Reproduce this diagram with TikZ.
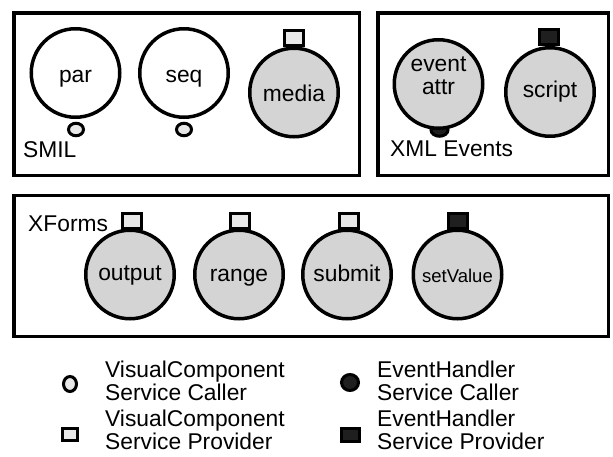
\documentclass[tikz,border=0pt]{standalone}
\usepackage{fontspec}
\setmainfont{Liberation Sans}
\usetikzlibrary{shapes.geometric}
\definecolor{compgray}{gray}{0.83}
\definecolor{vcfill}{gray}{0.91}
\definecolor{ehfill}{gray}{0.12}
\begin{document}
\begin{tikzpicture}[x=1pt,y=-1pt,
  frame/.style={draw=black, line width=3.3pt},
  comp/.style={circle, draw=black, line width=3.5pt, minimum size=88.5pt,
    inner sep=0pt, align=center, font=\fontsize{22.8}{23}\selectfont},
  plain/.style={comp, fill=white},
  shaded/.style={comp, fill=compgray},
  % baseline sits #1/2 below the circle centre
  drop/.style={text height=#1, text depth=0pt},
  provider/.style={rectangle, draw=black, line width=3pt, inner sep=0pt,
    minimum width=19pt, minimum height=15pt},
  caller/.style={ellipse, draw=black, line width=3pt, inner sep=0pt,
    minimum width=15pt, minimum height=12.5pt},
  vc/.style={fill=vcfill},
  eh/.style={fill=ehfill},
  label/.style={anchor=base west, inner sep=0pt, font=\fontsize{22.8}{23}\selectfont},
  legend/.style={anchor=west, inner sep=0pt, align=left, font=\fontsize{22.8}{23.5}\selectfont}
]
\fill[white] (0,0) rectangle (613,457);
\useasboundingbox (0,0) rectangle (613,457);

% group frames
\draw[frame] (14,13) rectangle (359.5,175.5);
\draw[frame] (378,13) rectangle (608.5,175.5);
\draw[frame] (14,195.5) rectangle (608.5,336.5);

% SMIL
\node[caller, vc] (parC) at (76,129.5) {};
\node[caller, vc] (seqC) at (184,129.5) {};
\node[provider, vc] (mediaP) at (294,38) {};
\node[plain, drop=20pt] (par) at (75.5,73) {par};
\node[plain, drop=20pt] (seq) at (184,73) {seq};
\node[shaded, drop=19pt] (media) at (294,92.5) {media};
\node[label] (smil) at (23,158) {SMIL};

% XML Events
\node[caller, eh, minimum width=17pt] (evC) at (439.5,130) {};
\node[provider, eh] (scriptP) at (549,37.5) {};
\node[shaded] (ev) at (438.5,84)
  {\raisebox{0pt}[22pt][0pt]{\begin{tabular}[b]{@{}c@{}}event\\attr\end{tabular}}};
\node[shaded, drop=12pt] (script) at (550,92) {script};
\node[label] (xmlev) at (390,157) {XML Events};

% XForms
\node[provider, vc] (outP) at (131.5,221) {};
\node[provider, vc] (rangeP) at (239.5,221) {};
\node[provider, vc] (subP) at (349,221) {};
\node[provider, eh] (setP) at (457.5,221) {};
\node[shaded, drop=12pt] (out) at (130,274.5) {output};
\node[shaded, drop=14pt] (range) at (239,274.5) {range};
\node[shaded, drop=14pt] (sub) at (347,274.5) {submit};
\node[shaded, drop=16pt, font=\fontsize{18.5}{20}\selectfont] (set) at (457.5,274.5) {setValue};
\node[label] (xforms) at (28,232) {XForms};

% legend
\node[caller, vc, minimum width=13pt, minimum height=15pt] (lgVcC) at (70,384) {};
\node[legend] (lgVcCt) at (105,381) {VisualComponent\\Service Caller};
\node[provider, vc, minimum width=15pt, minimum height=12pt] (lgVcP) at (70,434) {};
\node[legend] (lgVcPt) at (105,430) {VisualComponent\\Service Provider};
\node[caller, eh, minimum width=17pt, minimum height=16pt] (lgEhC) at (350,382.5) {};
\node[legend] (lgEhCt) at (377,381) {EventHandler\\Service Caller};
\node[provider, eh, minimum width=18pt, minimum height=13.5pt] (lgEhP) at (350,435) {};
\node[legend] (lgEhPt) at (377,430) {EventHandler\\Service Provider};
\end{tikzpicture}
\end{document}
